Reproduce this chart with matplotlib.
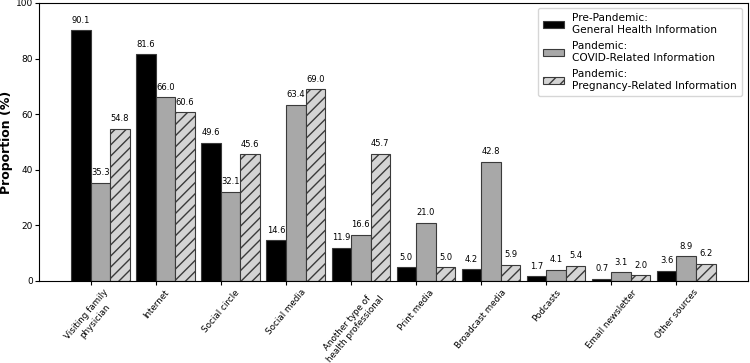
import matplotlib
matplotlib.use("Agg")
import matplotlib.pyplot as plt
import numpy as np

categories = ["Visiting family\nphysician", "Internet", "Social circle", "Social media",
              "Another type of\nhealth professional", "Print media", "Broadcast media",
              "Podcasts", "Email newsletter", "Other sources"]
pre_general = [90.1, 81.6, 49.6, 14.6, 11.9, 5.0, 4.2, 1.7, 0.7, 3.6]
pandemic_covid = [35.3, 66.0, 32.1, 63.4, 16.6, 21.0, 42.8, 4.1, 3.1, 8.9]
pandemic_preg = [54.8, 60.6, 45.6, 69.0, 45.7, 5.0, 5.9, 5.4, 2.0, 6.2]
series_labels = ["Pre-Pandemic:\nGeneral Health Information",
                 "Pandemic:\nCOVID-Related Information",
                 "Pandemic:\nPregnancy-Related Information"]

fig, ax = plt.subplots(figsize=(7.5, 3.63), dpi=100)
fig.subplots_adjust(left=0.052, right=0.997, top=0.992, bottom=0.226)

x = np.arange(len(categories))
w = 0.3
edge = "#3a3a3a"
b1 = ax.bar(x - w, pre_general, w, align="edge", color="black", edgecolor=edge, linewidth=0.8, label=series_labels[0])
b2 = ax.bar(x, pandemic_covid, w, align="edge", color="#a8a8a8", edgecolor=edge, linewidth=0.8, label=series_labels[1])
b3 = ax.bar(x + w, pandemic_preg, w, align="edge", color="#d4d4d4", edgecolor=edge, linewidth=0.8, hatch="///", label=series_labels[2])

for bars, vals in [(b1, pre_general), (b2, pandemic_covid), (b3, pandemic_preg)]:
    for r, v in zip(bars, vals):
        ax.annotate(f"{v:.1f}", (r.get_x() + r.get_width() / 2, v), xytext=(0, 4),
                    textcoords="offset points", ha="center", va="bottom", fontsize=6)

ax.set_ylim(0, 100)
ax.set_xticks(x)
ax.set_xticklabels(categories, rotation=50, ha="center", fontsize=6.3, multialignment="center")
ax.tick_params(axis="x", length=3, pad=2)
ax.tick_params(axis="y", labelsize=6.5, length=3, pad=1.5)
ax.set_ylabel("Proportion (%)", fontsize=9, fontweight="bold", labelpad=1.5)
ax.legend(loc="upper right", fontsize=7.6, handlelength=2.0, labelspacing=0.6, borderpad=0.5)

fig.savefig("out.png", dpi=100)
